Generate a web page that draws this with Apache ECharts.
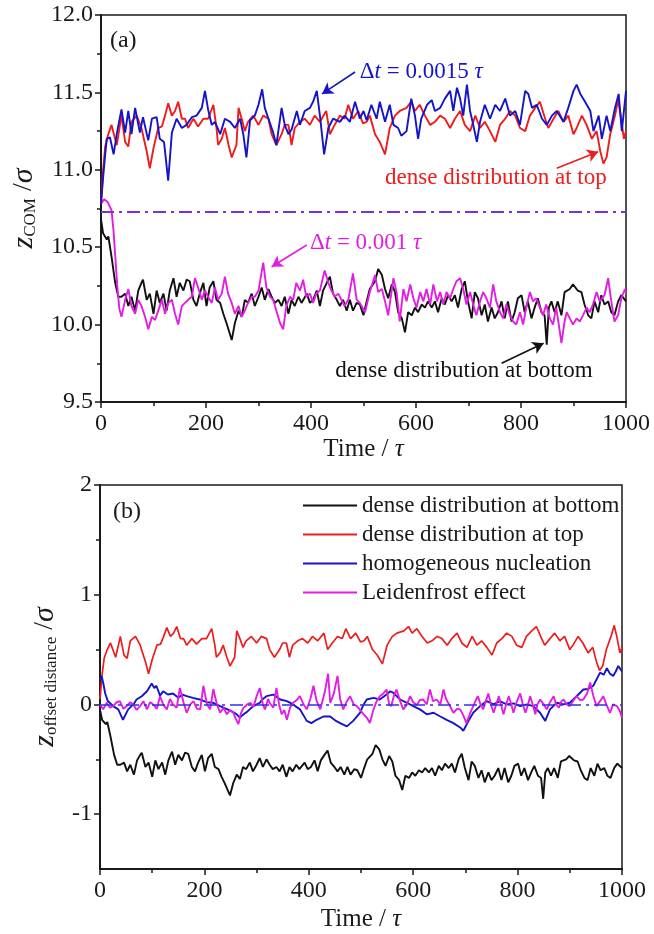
<!DOCTYPE html>
<html>
<head>
<meta charset="utf-8">
<script src="https://cdn.jsdelivr.net/npm/echarts@6/dist/echarts.min.js"></script>
<style>
  html, body { margin: 0; padding: 0; background: #fff; }
  #chart { width: 654px; height: 934px; }
</style>
</head>
<body>
<div id="chart"></div>
<script>
// ---- data: centre-of-mass height z_COM/σ versus time t/τ ----
const zCenter = 10.73;               // reference height (dash-dot line)
const timeTicks = [0, 200, 400, 600, 800, 1000];
const zTicks = [9.5, 10.0, 10.5, 11.0, 11.5, 12.0];
const offsetTicks = [-1, 0, 1, 2];
const offsetMinorTicks = [-0.5, 0.5, 1.5];

// dense distribution at bottom
const zBottomDense = [[0,10.68],[4,10.59],[11,10.55],[14,10.57],[20,10.44],[27,10.27],[33,10.18],[39,10.18],[46,10.20],[52,10.12],[58,10.18],[65,10.09],[71,10.22],[77,10.27],[80,10.29],[87,10.16],[93,10.20],[100,10.07],[106,10.22],[112,10.14],[119,10.20],[125,10.09],[131,10.22],[138,10.30],[144,10.18],[150,10.27],[157,10.22],[163,10.29],[169,10.28],[176,10.16],[182,10.12],[188,10.20],[195,10.27],[201,10.12],[207,10.24],[214,10.28],[220,10.16],[227,10.14],[233,10.07],[239,10.01],[249,9.90],[255,10.01],[262,10.09],[268,10.05],[274,10.16],[280,10.14],[287,10.20],[293,10.12],[300,10.18],[306,10.24],[312,10.16],[319,10.23],[325,10.18],[331,10.14],[338,10.16],[344,10.12],[350,10.18],[357,10.07],[363,10.16],[369,10.12],[376,10.18],[382,10.14],[392,10.20],[398,10.14],[404,10.16],[411,10.22],[417,10.12],[423,10.22],[430,10.27],[436,10.31],[442,10.20],[449,10.16],[455,10.12],[461,10.16],[468,10.09],[474,10.16],[480,10.09],[487,10.14],[493,10.13],[500,10.06],[506,10.15],[512,10.23],[522,10.28],[528,10.36],[535,10.32],[541,10.23],[547,10.17],[554,10.26],[560,10.21],[566,10.08],[573,10.04],[579,9.95],[585,10.08],[592,10.06],[598,10.11],[604,10.08],[611,10.13],[617,10.11],[623,10.15],[630,10.11],[636,10.15],[642,10.08],[649,10.17],[655,10.13],[661,10.19],[668,10.15],[674,10.19],[680,10.11],[687,10.23],[693,10.28],[699,10.15],[706,10.04],[712,10.21],[718,10.17],[725,10.06],[731,10.13],[737,10.02],[744,10.11],[750,10.04],[756,10.08],[763,10.15],[769,10.04],[775,10.15],[782,10.02],[788,10.08],[794,10.17],[801,10.19],[807,10.08],[813,10.15],[820,10.04],[826,10.11],[832,10.17],[839,10.08],[845,10.06],[849,9.87],[853,10.11],[858,10.15],[864,10.08],[870,10.15],[877,10.06],[883,10.21],[893,10.23],[899,10.26],[908,10.22],[915,10.21],[921,10.13],[928,10.06],[934,10.04],[940,10.15],[947,10.08],[953,10.19],[959,10.13],[966,10.15],[972,10.08],[978,10.06],[985,10.15],[991,10.19],[1000,10.15]];

// dense distribution at top
const zTopDense = [[0,10.78],[4,11.0],[8,11.15],[13,11.22],[20,11.29],[30,11.16],[39,11.35],[46,11.18],[52,11.15],[58,11.31],[68,11.35],[77,11.27],[87,11.12],[93,11.01],[100,11.14],[109,11.27],[116,11.28],[122,11.35],[128,11.43],[135,11.35],[141,11.38],[147,11.44],[154,11.33],[160,11.33],[166,11.27],[176,11.33],[185,11.28],[195,11.33],[204,11.33],[214,11.42],[220,11.27],[223,11.16],[230,11.20],[236,11.27],[243,11.16],[249,11.08],[258,11.16],[262,11.40],[268,11.33],[274,11.25],[280,11.31],[290,11.35],[300,11.29],[309,11.35],[319,11.33],[325,11.23],[334,11.16],[344,11.23],[350,11.29],[357,11.29],[363,11.16],[369,11.27],[379,11.31],[388,11.33],[398,11.29],[407,11.35],[417,11.31],[429,11.38],[436,11.23],[445,11.29],[455,11.35],[464,11.33],[471,11.42],[480,11.33],[490,11.38],[499,11.30],[506,11.31],[512,11.35],[522,11.23],[531,11.18],[541,11.10],[550,11.27],[560,11.35],[569,11.38],[582,11.40],[591,11.44],[598,11.38],[607,11.42],[617,11.35],[627,11.29],[636,11.31],[646,11.35],[655,11.33],[665,11.27],[674,11.33],[684,11.38],[693,11.29],[703,11.25],[713,11.35],[722,11.27],[731,11.31],[741,11.25],[751,11.18],[760,11.29],[770,11.33],[779,11.38],[789,11.35],[798,11.27],[808,11.25],[817,11.35],[827,11.40],[836,11.44],[846,11.33],[852,11.27],[862,11.33],[871,11.38],[881,11.31],[890,11.35],[900,11.23],[906,11.27],[916,11.35],[925,11.29],[935,11.20],[944,11.25],[951,11.12],[957,11.04],[963,11.08],[970,11.23],[979,11.35],[985,11.45],[990,11.35],[996,11.20],[1000,11.25]];

// Δt = 0.0015 τ
const zStep15 = [[0,10.78],[4,10.95],[8,11.1],[11,11.2],[17,11.21],[24,11.10],[31,11.25],[39,11.39],[46,11.24],[52,11.38],[58,11.23],[65,11.40],[74,11.24],[80,11.34],[90,11.19],[97,11.33],[106,11.34],[112,11.20],[120,11.18],[128,10.93],[135,11.24],[144,11.33],[154,11.27],[163,11.29],[173,11.34],[182,11.35],[192,11.40],[198,11.51],[204,11.39],[211,11.29],[217,11.31],[227,11.23],[236,11.33],[246,11.31],[255,11.27],[265,11.33],[271,11.23],[277,11.08],[284,11.32],[293,11.35],[300,11.42],[307,11.52],[312,11.40],[319,11.33],[328,11.24],[334,11.16],[344,11.40],[350,11.29],[357,11.23],[363,11.26],[373,11.38],[379,11.29],[388,11.38],[398,11.40],[404,11.44],[411,11.51],[417,11.35],[425,11.10],[433,11.27],[442,11.33],[455,11.31],[464,11.35],[474,11.31],[484,11.44],[493,11.33],[500,11.38],[506,11.32],[515,11.42],[525,11.33],[531,11.44],[541,11.31],[550,11.42],[557,11.29],[566,11.27],[572,11.22],[582,11.25],[591,11.46],[598,11.35],[604,11.20],[610,11.33],[621,11.42],[630,11.45],[636,11.38],[646,11.40],[655,11.46],[665,11.51],[671,11.38],[678,11.53],[684,11.46],[690,11.35],[697,11.55],[703,11.38],[709,11.29],[716,11.18],[722,11.31],[731,11.42],[741,11.33],[751,11.42],[760,11.38],[770,11.46],[779,11.35],[789,11.38],[798,11.29],[808,11.51],[814,11.49],[821,11.40],[830,11.42],[840,11.33],[849,11.29],[859,11.35],[868,11.38],[881,11.31],[890,11.40],[900,11.51],[906,11.55],[913,11.49],[922,11.44],[932,11.38],[938,11.25],[948,11.35],[954,11.20],[963,11.35],[970,11.25],[979,11.40],[986,11.49],[992,11.25],[1000,11.51]];

// Δt = 0.001 τ
const zStep10 = [[0,10.78],[6,10.81],[13,10.79],[20,10.74],[24,10.6],[27,10.45],[31,10.25],[35,10.10],[39,10.05],[46,10.16],[52,10.23],[58,10.12],[65,10.07],[71,10.16],[77,10.12],[84,10.05],[90,9.97],[97,10.05],[103,10.03],[109,10.09],[116,10.16],[122,10.07],[128,10.14],[135,10.16],[141,10.07],[147,10.00],[154,10.12],[160,10.14],[166,10.16],[173,10.18],[179,10.30],[185,10.24],[192,10.16],[198,10.22],[204,10.18],[211,10.14],[217,10.24],[223,10.16],[230,10.20],[236,10.31],[242,10.20],[249,10.14],[255,10.07],[262,10.12],[268,10.05],[274,10.09],[280,10.14],[287,10.18],[293,10.18],[300,10.22],[309,10.40],[315,10.24],[322,10.18],[328,10.16],[334,10.09],[341,10.01],[347,9.97],[353,10.12],[360,10.18],[366,10.16],[372,10.27],[379,10.22],[385,10.29],[391,10.18],[398,10.20],[404,10.14],[410,10.20],[417,10.22],[426,10.35],[433,10.27],[439,10.22],[445,10.18],[452,10.20],[458,10.16],[464,10.12],[471,10.16],[480,10.33],[487,10.16],[493,10.14],[503,10.08],[512,10.21],[522,10.32],[528,10.21],[535,10.23],[541,10.15],[547,10.06],[557,10.30],[563,10.21],[569,10.02],[576,10.23],[582,10.15],[589,10.26],[595,10.17],[601,10.11],[608,10.21],[614,10.15],[620,10.23],[627,10.13],[633,10.26],[640,10.15],[646,10.21],[652,10.13],[658,10.21],[665,10.17],[671,10.23],[677,10.28],[684,10.30],[690,10.23],[696,10.13],[703,10.21],[709,10.13],[715,10.06],[722,10.15],[728,10.21],[734,10.17],[741,10.11],[747,10.26],[753,10.15],[760,10.08],[766,10.04],[772,10.13],[779,10.06],[785,10.02],[791,10.00],[798,10.08],[804,10.00],[810,10.11],[817,10.21],[823,10.15],[829,10.17],[836,10.11],[842,10.06],[848,10.13],[855,10.04],[861,10.00],[867,10.11],[872,10.00],[877,9.88],[883,10.02],[887,10.08],[893,10.04],[899,10.00],[906,10.04],[912,10.02],[918,10.06],[925,10.11],[931,10.08],[937,10.13],[944,10.21],[950,10.15],[959,10.19],[966,10.30],[972,10.15],[978,10.02],[985,10.06],[991,10.17],[998,10.23],[1000,10.20]];

// ---- offset distance z_offset/σ ----
const offHomogeneous = [[0,0.22],[3,0.26],[6,0.2],[10,0.1],[15,0.03],[19,0.015],[25,-0.015],[35,-0.045],[44,-0.14],[54,-0.045],[64,0.0],[70,0.045],[80,0.075],[90,0.12],[99,0.19],[104,0.15],[108,0.17],[115,0.08],[121,0.12],[130,0.09],[140,0.1],[150,0.06],[158,0.09],[166,0.075],[178,0.06],[191,0.045],[204,0.02],[217,0.015],[230,-0.015],[242,-0.04],[255,-0.07],[262,-0.09],[268,-0.12],[275,-0.09],[281,-0.07],[294,-0.015],[306,0.015],[312,0.05],[319,0.075],[332,0.09],[345,0.045],[358,0.03],[370,0.0],[383,-0.045],[390,-0.1],[396,-0.15],[405,-0.17],[415,-0.14],[428,-0.11],[441,-0.11],[452,-0.15],[460,-0.17],[473,-0.20],[485,-0.15],[498,-0.076],[505,0.0],[511,0.045],[524,0.06],[536,0.045],[549,0.09],[556,0.12],[562,0.105],[575,0.045],[588,0.015],[600,-0.015],[613,-0.045],[626,-0.09],[639,-0.076],[652,-0.11],[664,-0.14],[677,-0.17],[690,-0.21],[696,-0.24],[706,-0.15],[715,-0.076],[728,-0.015],[741,0.03],[754,0.0],[766,0.03],[779,0.0],[792,0.01],[805,-0.015],[818,0.0],[830,-0.015],[843,-0.076],[853,-0.15],[862,-0.045],[875,0.015],[888,0.0],[900,0.015],[913,0.075],[926,0.136],[935,0.14],[945,0.17],[958,0.29],[965,0.27],[971,0.33],[977,0.28],[983,0.26],[988,0.3],[993,0.35],[1000,0.3]];

const offLeidenfrost = [[0,0.0],[6,-0.045],[13,0.015],[19,-0.03],[25,-0.015],[32,0.02],[38,0.03],[45,-0.04],[51,-0.015],[58,0.02],[64,0.0],[70,-0.05],[77,-0.015],[83,0.03],[90,-0.045],[96,0.02],[102,0.0],[109,-0.04],[115,0.075],[121,0.0],[128,-0.045],[134,0.05],[140,0.0],[147,-0.03],[153,0.15],[160,0.02],[166,-0.076],[173,0.0],[179,0.03],[186,-0.04],[192,-0.045],[198,0.17],[205,0.0],[211,-0.045],[217,0.14],[224,0.0],[230,-0.076],[237,-0.03],[243,-0.09],[249,-0.05],[255,-0.07],[260,-0.13],[265,-0.18],[270,-0.08],[275,-0.03],[282,0.0],[288,0.015],[294,-0.02],[300,0.075],[306,0.15],[312,0.0],[316,-0.045],[322,0.05],[325,0.015],[332,-0.03],[338,0.15],[343,0.0],[348,-0.09],[353,-0.05],[358,-0.14],[364,-0.03],[370,0.015],[377,0.04],[383,0.075],[390,0.0],[396,-0.045],[403,0.05],[409,0.17],[415,0.03],[422,-0.045],[430,0.1],[437,0.28],[441,0.015],[448,0.1],[455,0.26],[460,0.05],[466,-0.045],[473,0.03],[479,0.075],[486,0.0],[492,-0.015],[498,-0.05],[505,-0.09],[511,-0.12],[517,-0.17],[524,-0.045],[530,0.03],[536,0.075],[543,0.1],[549,0.136],[554,0.0],[558,-0.015],[563,0.08],[568,0.136],[575,0.03],[581,-0.045],[588,0.0],[594,0.075],[600,0.02],[607,-0.005],[613,0.04],[619,0.045],[626,0.0],[632,0.136],[638,0.03],[645,0.045],[652,0.0],[658,0.136],[663,0.05],[667,0.015],[672,-0.03],[677,-0.076],[684,-0.04],[690,-0.045],[696,-0.1],[702,-0.17],[709,-0.08],[715,-0.015],[720,0.04],[724,0.075],[729,0.0],[734,-0.045],[739,0.03],[744,0.1],[749,0.0],[754,-0.076],[759,0.0],[764,0.075],[768,0.0],[773,-0.09],[778,0.0],[783,0.075],[788,0.0],[792,-0.076],[798,0.02],[805,0.1],[810,0.0],[815,-0.076],[820,0.0],[824,0.075],[829,0.0],[834,-0.09],[838,0.0],[843,0.045],[850,0.0],[856,-0.045],[862,0.02],[869,0.075],[874,0.0],[879,-0.03],[884,0.03],[888,0.045],[894,0.0],[900,-0.015],[906,0.03],[913,0.075],[920,0.04],[926,0.045],[933,0.1],[939,0.2],[945,0.08],[951,-0.015],[958,0.03],[964,0.075],[970,0.0],[977,-0.076],[983,0.0],[990,-0.015],[995,-0.05],[1000,-0.12]];

// offset of the two dense-distribution runs from the reference height
const toOffset = (series) => series.map(([t, z]) => [t, +(z - zCenter).toFixed(3)]);
const offBottomDense = toOffset(zBottomDense);
const offTopDense = toOffset(zTopDense);

// ---- styling ----
const FONT = '"Liberation Serif", "Times New Roman", serif';
const INK = '#1a1a1a';
const C_BLACK = '#111111';
const C_RED = '#ee1c1c';
const C_BLUE = '#1414c8';
const C_MAGENTA = '#e21ee2';
const C_VIOLET = '#7b2ee0';

const NAME_BOTTOM = 'dense distribution at bottom';
const NAME_TOP = 'dense distribution at top';
const NAME_HOMO = 'homogeneous nucleation';
const NAME_LEID = 'Leidenfrost effect';

const tickStyle = { color: INK, width: 1.5 };

function timeAxis(gridIndex) {
  return {
    gridIndex, type: 'value', min: 0, max: 1000, interval: 200,
    axisLine: { onZero: false, lineStyle: { color: INK, width: 2 } },
    axisTick: { length: 6, lineStyle: tickStyle },
    minorTick: { show: true, splitNumber: 2, length: 4, lineStyle: tickStyle },
    splitLine: { show: false },
    axisLabel: { color: INK, fontFamily: FONT, fontSize: 24, margin: 10,
      customValues: timeTicks, formatter: (v) => String(v) },
    name: '{n|Time / }{i|τ}',
    nameLocation: 'middle', nameGap: gridIndex === 0 ? 34 : 38,
    nameTextStyle: {
      rich: {
        n: { fontFamily: FONT, fontSize: 25, color: INK },
        i: { fontFamily: FONT, fontSize: 25, color: INK, fontStyle: 'italic' }
      }
    }
  };
}

const arrowLine = (from, to, color) => ({
  silent: true, animation: false,
  symbol: ['none', 'arrow'], symbolSize: [10, 11],
  label: { show: false },
  lineStyle: { color, width: 1.6, type: 'solid' },
  emphasis: { disabled: true },
  data: [[{ coord: from }, { coord: to }]]
});

const lineSeries = (name, data, color, xi, yi, width, extra) => Object.assign({
  name, type: 'line', data, xAxisIndex: xi, yAxisIndex: yi,
  showSymbol: false, symbol: 'none', animation: false,
  lineStyle: { color, width }, itemStyle: { color },
  emphasis: { disabled: true }
}, extra || {});

const yTitleRich = {
  z: { fontFamily: FONT, fontSize: 30, fontStyle: 'italic', color: INK, lineHeight: 30 },
  s: { fontFamily: FONT, fontSize: 17, color: INK, verticalAlign: 'bottom', lineHeight: 17 },
  n: { fontFamily: FONT, fontSize: 28, color: INK, lineHeight: 30 },
  g: { fontFamily: FONT, fontSize: 30, fontStyle: 'italic', color: INK, lineHeight: 30 }
};

const option = {
  backgroundColor: '#ffffff',
  animation: false,
  grid: [
    { left: 101, top: 15, width: 525, height: 387, show: true, borderColor: INK, borderWidth: 1.5, backgroundColor: 'transparent' },
    { left: 100, top: 485, width: 522, height: 384, show: true, borderColor: INK, borderWidth: 1.5, backgroundColor: 'transparent' }
  ],
  xAxis: [timeAxis(0), timeAxis(1)],
  yAxis: [
    {
      gridIndex: 0, type: 'value', min: 9.5, max: 12, interval: 0.5,
      axisLine: { onZero: false, lineStyle: { color: INK, width: 2 } },
      axisTick: { length: 6, lineStyle: tickStyle },
      minorTick: { show: true, splitNumber: 2, length: 4, lineStyle: tickStyle },
      splitLine: { show: false },
      axisLabel: { color: INK, fontFamily: FONT, fontSize: 24, margin: 8,
        customValues: zTicks, formatter: (v) => v.toFixed(1) },
      name: '{z|z}{s|COM}{n| /}{g|σ}',
      nameLocation: 'middle', nameRotate: 90, nameGap: 62,
      nameTextStyle: { rich: yTitleRich }
    },
    {
      gridIndex: 1, type: 'value', min: -1.5, max: 2, interval: 0.5, position: 'left',
      axisLine: { onZero: false, lineStyle: { color: INK, width: 2 } },
      axisTick: { length: 6, lineStyle: tickStyle, customValues: offsetTicks },
      splitLine: { show: false },
      axisLabel: { color: INK, fontFamily: FONT, fontSize: 24, margin: 8,
        customValues: offsetTicks, formatter: (v) => String(v) },
      name: '{z|z}{s|offset distance}{n| /}{g|σ}',
      nameLocation: 'middle', nameRotate: 90, nameGap: 40,
      nameTextStyle: { rich: yTitleRich }
    },
    {
      // half-unit minor ticks of the offset axis
      gridIndex: 1, type: 'value', min: -1.5, max: 2, interval: 0.5, position: 'left',
      axisLine: { show: false },
      axisTick: { length: 4, lineStyle: tickStyle, customValues: offsetMinorTicks },
      axisLabel: { show: false },
      splitLine: { show: false }
    }
  ],
  legend: {
    orient: 'vertical', left: 298, top: 489,
    icon: 'rect', itemWidth: 54, itemHeight: 2, itemGap: 6,
    selectedMode: false,
    data: [NAME_BOTTOM, NAME_TOP, NAME_HOMO, NAME_LEID],
    textStyle: { fontFamily: FONT, fontSize: 23, color: INK, lineHeight: 23 }
  },
  series: [
    // panel (a)
    lineSeries(NAME_BOTTOM, zBottomDense, C_BLACK, 0, 0, 1.9, {
      markLine: {
        silent: true, animation: false, symbol: ['none', 'none'],
        label: { show: false }, emphasis: { disabled: true },
        lineStyle: { color: C_VIOLET, width: 2, type: [13, 5, 3, 5] },
        data: [{ yAxis: zCenter }]
      }
    }),
    lineSeries('Δt = 0.001 τ', zStep10, C_MAGENTA, 0, 0, 1.9, {
      markLine: arrowLine([392, 10.514], [325, 10.374], C_MAGENTA)
    }),
    lineSeries(NAME_TOP, zTopDense, C_RED, 0, 0, 1.9, {
      markLine: arrowLine([868, 11.01], [947, 11.117], C_RED)
    }),
    lineSeries('Δt = 0.0015 τ', zStep15, C_BLUE, 0, 0, 1.9, {
      markLine: arrowLine([484, 11.632], [421, 11.49], C_BLUE)
    }),
    // helper series carrying the black arrow of panel (a)
    {
      type: 'line', data: [], xAxisIndex: 0, yAxisIndex: 0, silent: true,
      markLine: arrowLine([763, 9.75], [843, 9.88], C_BLACK)
    },
    // panel (b)
    lineSeries(NAME_BOTTOM, offBottomDense, C_BLACK, 1, 1, 1.9),
    lineSeries(NAME_TOP, offTopDense, C_RED, 1, 1, 1.7),
    lineSeries(NAME_HOMO, offHomogeneous, C_BLUE, 1, 1, 1.9, {
      markLine: {
        silent: true, animation: false, symbol: ['none', 'none'],
        label: { show: false }, emphasis: { disabled: true },
        lineStyle: { color: '#3030e0', width: 1.6, type: [13, 5, 3, 5] },
        data: [{ yAxis: 0 }]
      }
    }),
    lineSeries(NAME_LEID, offLeidenfrost, C_MAGENTA, 1, 1, 1.9)
  ]
};

const chart = echarts.init(document.getElementById('chart'), null, { renderer: 'canvas' });
chart.setOption(option);

// annotation texts, anchored at data positions
const toPx = (grid, p) => chart.convertToPixel({ xAxisIndex: grid, yAxisIndex: grid }, p);
const ann = (grid, at, text, rich, color, size) => {
  const [x, y] = toPx(grid, at);
  const r = {};
  Object.keys(rich).forEach((k) => {
    r[k] = Object.assign({ fontFamily: FONT, fontSize: size, fill: color }, rich[k]);
  });
  return {
    type: 'text', x, y, silent: true, z: 100,
    style: { text, rich: r, fill: color, fontFamily: FONT, fontSize: size, align: 'left', verticalAlign: 'middle' }
  };
};
const plain = { n: {} };
const dt = { n: {}, i: { fontStyle: 'italic' } };

chart.setOption({
  graphic: [
    ann(0, [17, 11.832], '{n|(a)}', plain, INK, 24),
    ann(1, [25, 1.76], '{n|(b)}', plain, INK, 24),
    ann(0, [493, 11.632], '{n|Δ}{i|t}{n| = 0.0015 }{i|τ}', dt, C_BLUE, 23),
    ann(0, [541, 10.947], '{n|dense distribution at top}', plain, C_RED, 23),
    ann(0, [398, 10.527], '{n|Δ}{i|t}{n| = 0.001 }{i|τ}', dt, C_MAGENTA, 23),
    ann(0, [446, 9.70], '{n|dense distribution at bottom}', plain, C_BLACK, 23)
  ]
});
</script>
</body>
</html>
